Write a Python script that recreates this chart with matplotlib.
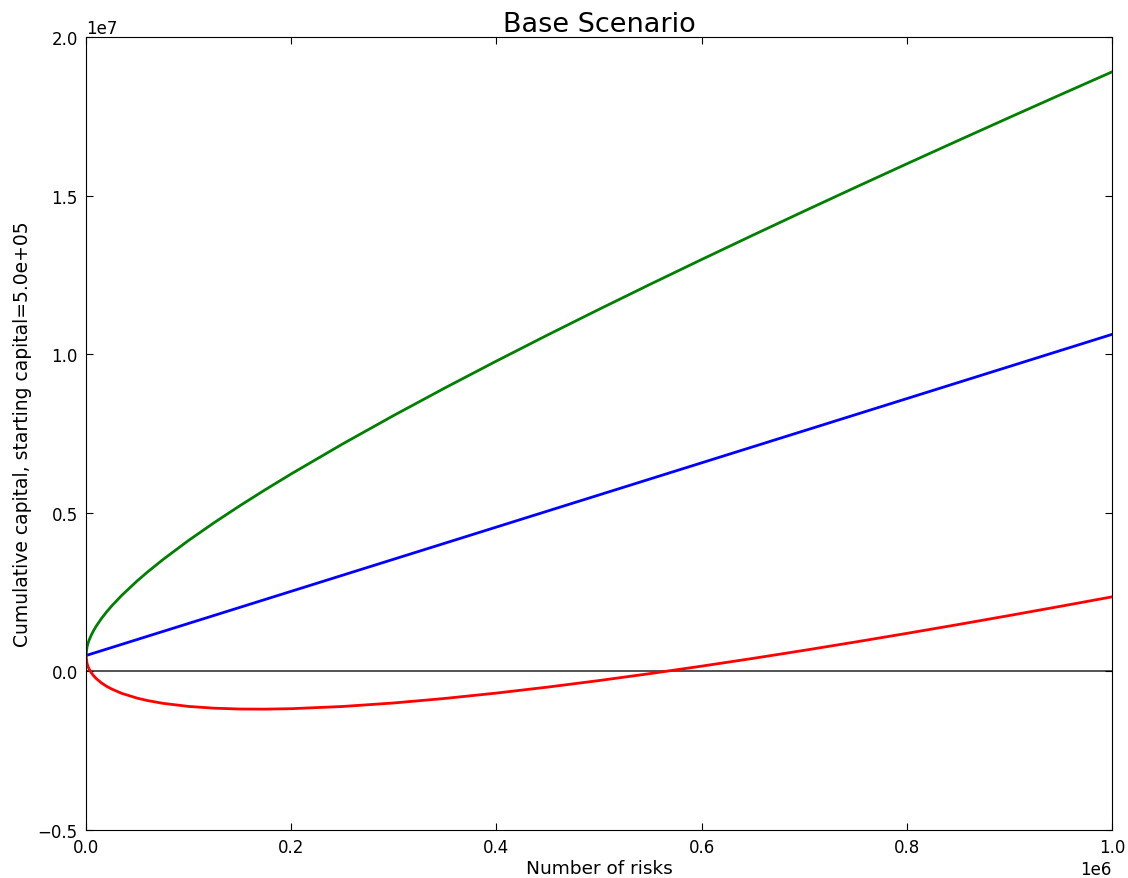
import matplotlib
matplotlib.use('Agg')
import matplotlib.pyplot as plt

# number of risks written
n_risks = [0, 1000, 2000, 3000, 5000, 7500, 10000, 15000, 20000, 25000,
           35000, 50000, 60000, 75000, 100000, 125000, 150000, 175000,
           200000, 250000, 300000, 350000, 400000, 450000, 500000, 550000,
           600000, 650000, 700000, 750000, 800000, 850000, 900000, 950000,
           1000000]

# cumulative capital: expected path
capital_mean = [500000, 510125, 520250, 530375, 550625, 575938, 601250,
                651875, 702500, 753125, 854375, 1006250, 1107500, 1259375,
                1512500, 1765625, 2018750, 2271875, 2525000, 3031250,
                3537500, 4043750, 4550000, 5056250, 5562500, 6068750,
                6575000, 7081250, 7587500, 8093750, 8600000, 9106250,
                9612500, 10118750, 10625000]

# upper band
capital_upper = [500000, 771805, 890350, 983615, 1135765, 1292578, 1428750,
                 1665315, 1872760, 2061525, 2402475, 2856630, 3134460,
                 3525575, 4129300, 4691275, 5223650, 5733575, 6225700,
                 7168750, 8069900, 8939350, 9783600, 10607290, 11413800,
                 12205650, 12984800, 13752850, 14510900, 15260150,
                 16001400, 16735450, 17462800, 18184250, 18900000]

# lower band
capital_lower = [500000, 248445, 150150, 77135, -34515, -140702, -226250,
                 -361565, -467760, -555275, -693725, -844130, -919460,
                 -1006825, -1104300, -1160025, -1186150, -1189825,
                 -1175700, -1106250, -994900, -851850, -683600, -494790,
                 -288800, -68150, 165200, 409650, 664100, 927350, 1198600,
                 1477050, 1762200, 2053250, 2350000]

starting_capital = 5.0e5

plt.rcParams['xtick.direction'] = 'in'
plt.rcParams['ytick.direction'] = 'in'
plt.rcParams['xtick.top'] = True
plt.rcParams['ytick.right'] = True
plt.rcParams['xtick.major.size'] = 5
plt.rcParams['ytick.major.size'] = 5

fig = plt.figure(figsize=(11.28, 8.79), dpi=100)
ax = fig.add_axes([86 / 1128, 1 - 831 / 879, 1026 / 1128, 793 / 879])

ax.plot(n_risks, capital_upper, color='green', lw=2)
ax.plot(n_risks, capital_mean, color='blue', lw=2)
ax.plot(n_risks, capital_lower, color='red', lw=2)
ax.axhline(0, color='#444444', lw=1.3, zorder=1)

ax.set_xlim(0, 1e6)
ax.set_ylim(-0.5e7, 2.0e7)
ax.ticklabel_format(style='sci', scilimits=(0, 0), useMathText=False)
ax.tick_params(labelsize=12, pad=6)
ax.xaxis.get_offset_text().set_fontsize(12)
ax.yaxis.get_offset_text().set_fontsize(12)

ax.set_title('Base Scenario', fontsize=19.5, pad=4)
ax.set_xlabel('Number of risks', fontsize=13.3, labelpad=2)
ax.set_ylabel('Cumulative capital, starting capital=%.1e' % starting_capital,
              fontsize=13.5, labelpad=4)

fig.savefig('out.png', dpi=100, facecolor='white')
